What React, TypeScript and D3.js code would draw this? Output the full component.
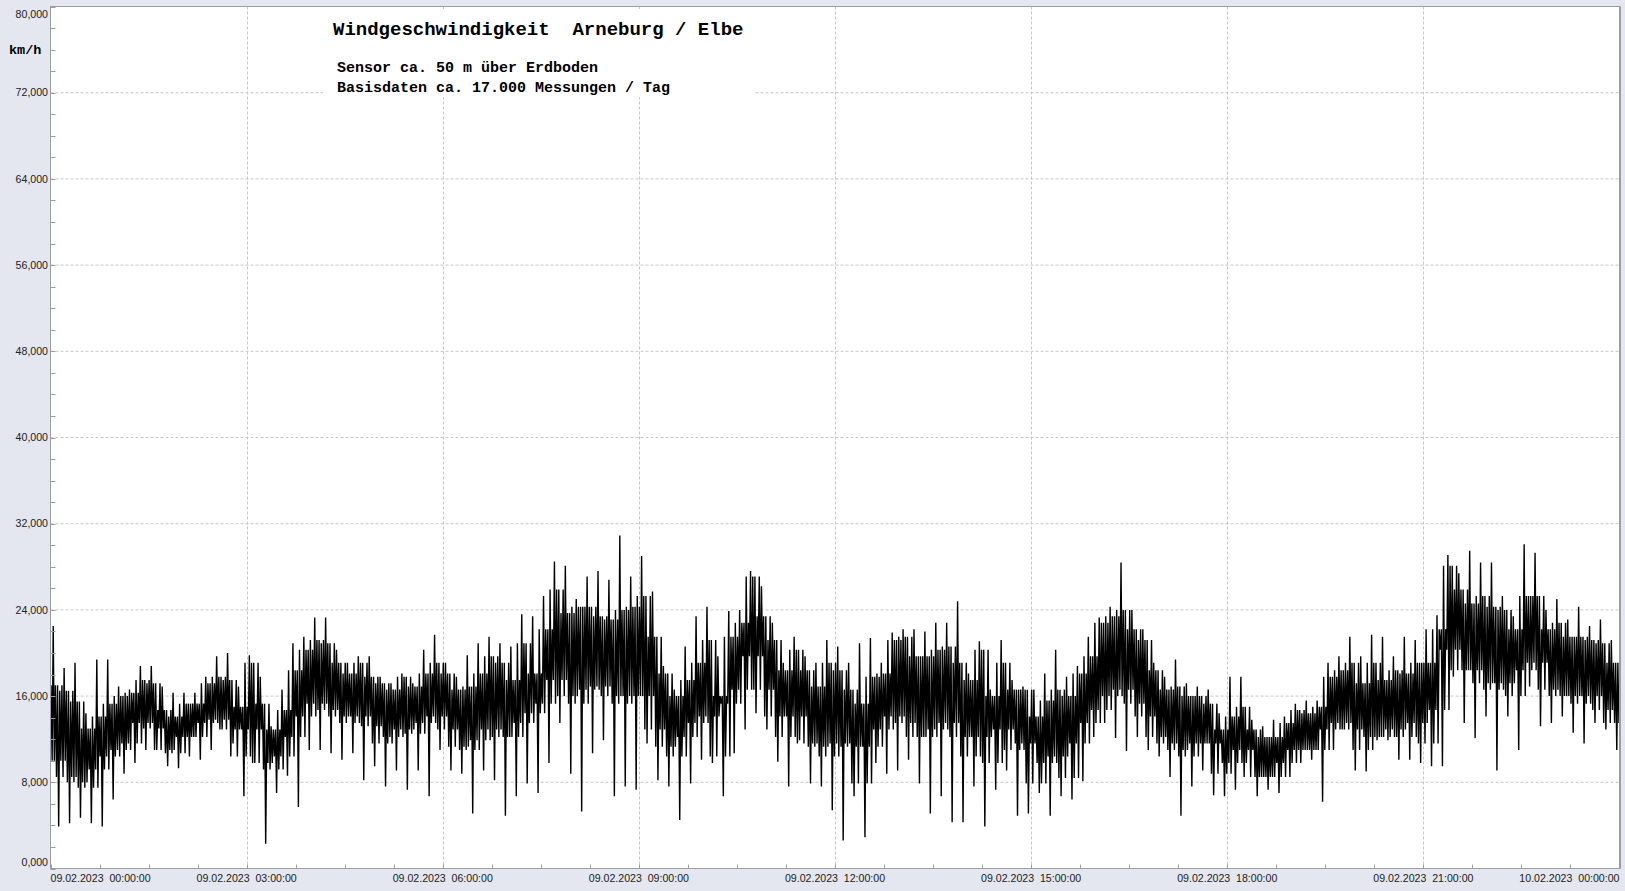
import React, { useMemo } from 'react'
import * as d3 from 'd3'

// 10-minute bins over 09.02.2023, values in km/h
const binMinutes = 10
const startTime = Date.UTC(2023, 1, 9, 0, 0, 0)
const endTime = Date.UTC(2023, 1, 10, 0, 0, 0)

// highest / lowest spikes per bin
const peakHigh = [
  22.5, 18.6, 19.1, 14.4, 19.4, 19.4, 16.9, 16.6, 18.8, 18.8, 16.9, 16.3,
  16.3, 16.3, 17.8, 19.7, 20.0, 16.9, 19.8, 17.8, 13.2, 16.6, 20.9, 21.5,
  23.3, 23.3, 20.3, 19.1, 19.7, 19.7, 17.8, 17.2, 18.1, 17.2, 20.3, 21.7,
  19.1, 17.8, 19.8, 20.9, 21.5, 20.9, 20.6, 23.6, 23.4, 25.3, 28.5, 28.1,
  25.0, 27.1, 27.6, 26.8, 30.9, 27.1, 29.0, 25.7, 18.8, 16.6, 20.6, 23.4,
  24.3, 19.7, 23.9, 24.0, 27.6, 26.2, 22.8, 19.1, 21.5, 19.7, 19.1, 21.2,
  20.6, 19.1, 20.9, 21.4, 19.1, 21.9, 22.2, 22.2, 22.0, 22.8, 22.8, 24.8,
  18.1, 21.1, 16.6, 21.2, 17.5, 16.9, 16.6, 18.1, 20.3, 17.8, 18.8, 21.5,
  23.3, 24.3, 28.4, 24.0, 22.2, 19.1, 17.8, 19.4, 17.2, 16.9, 16.6, 14.4,
  17.8, 17.8, 13.8, 13.2, 13.8, 14.1, 15.3, 15.6, 15.6, 19.1, 19.7, 21.5,
  19.7, 21.7, 21.5, 19.7, 21.5, 21.2, 22.2, 23.5, 29.1, 27.4, 29.5, 28.4,
  28.4, 25.3, 23.4, 30.1, 29.3, 24.0, 25.0, 23.1, 24.3, 22.5, 23.1, 21.2
]
const peakLow = [
  3.9, 4.2, 4.7, 4.2, 3.9, 6.4, 8.8, 9.8, 11.0, 11.0, 9.5, 9.3,
  10.4, 10.1, 11.0, 12.9, 11.6, 6.7, 9.8, 2.3, 7.0, 8.6, 5.7, 11.0,
  11.0, 10.7, 10.1, 10.7, 8.2, 9.5, 7.6, 9.1, 7.3, 9.1, 6.7, 11.0,
  9.1, 8.8, 5.1, 9.1, 8.2, 4.9, 6.7, 7.9, 7.0, 9.8, 13.5, 8.8,
  5.3, 10.7, 11.9, 6.7, 7.6, 7.3, 11.6, 8.2, 7.6, 4.5, 7.9, 10.1,
  9.8, 6.7, 10.7, 12.9, 14.4, 12.9, 9.9, 7.6, 11.9, 7.9, 7.6, 5.4,
  2.6, 6.7, 2.9, 9.8, 8.8, 9.1, 10.1, 7.9, 5.1, 6.7, 4.3, 4.3,
  7.6, 3.9, 7.3, 9.1, 4.9, 5.1, 7.0, 4.9, 6.7, 6.4, 8.1, 12.2,
  13.5, 12.1, 10.9, 12.2, 11.0, 10.4, 8.5, 4.9, 7.6, 9.1, 6.8, 6.7,
  7.3, 9.8, 6.7, 7.3, 7.0, 8.5, 9.8, 10.1, 6.2, 11.0, 12.9, 9.1,
  9.0, 11.9, 11.9, 10.1, 10.1, 9.8, 9.5, 9.5, 17.8, 13.5, 12.1, 14.1,
  9.1, 14.1, 11.0, 16.9, 13.2, 13.5, 14.1, 12.6, 11.6, 13.5, 12.9, 11.0
]
// dense core of the band per bin
const bandHigh = [
  17.0, 16.5, 15.5, 13.0, 14.1, 15.3, 16.0, 16.3, 17.5, 17.2, 14.7, 14.1,
  15.3, 15.3, 17.2, 17.8, 17.5, 15.0, 19.1, 15.3, 12.9, 14.7, 18.4, 20.3,
  21.2, 20.9, 19.1, 18.1, 19.1, 17.8, 17.2, 16.6, 17.8, 16.9, 18.1, 19.1,
  18.1, 16.6, 16.9, 18.1, 19.7, 19.1, 17.5, 20.9, 18.1, 22.2, 25.9, 23.7,
  24.3, 24.3, 23.4, 23.1, 24.0, 24.3, 25.3, 21.5, 18.1, 16.0, 17.5, 19.1,
  21.2, 16.0, 21.5, 22.8, 27.1, 23.4, 21.2, 18.4, 20.3, 18.4, 16.9, 19.1,
  18.4, 16.6, 15.3, 17.8, 18.1, 21.2, 21.5, 19.7, 19.7, 20.3, 20.6, 19.1,
  17.5, 20.3, 16.0, 19.1, 16.6, 16.6, 14.1, 15.6, 16.6, 16.0, 18.1, 19.7,
  22.8, 23.4, 24.0, 22.2, 21.2, 18.4, 16.6, 16.9, 16.0, 16.0, 15.3, 12.9,
  14.1, 15.0, 12.9, 12.2, 12.2, 13.5, 14.7, 14.4, 15.0, 17.8, 18.4, 19.1,
  17.2, 19.1, 17.5, 18.4, 18.1, 19.1, 19.1, 22.2, 28.1, 25.9, 24.6, 25.3,
  24.3, 24.0, 22.2, 25.3, 25.3, 22.2, 22.8, 21.5, 21.5, 21.2, 20.9, 19.1
]
const bandLow = [
  10.0, 8.5, 8.0, 7.5, 9.2, 10.4, 11.0, 11.6, 13.5, 13.0, 11.0, 10.7,
  12.2, 12.2, 13.5, 13.8, 12.9, 10.4, 12.9, 9.8, 9.2, 10.4, 12.2, 14.1,
  15.3, 14.7, 14.1, 13.5, 14.1, 13.2, 11.6, 12.2, 12.9, 12.5, 13.5, 14.1,
  12.9, 11.3, 11.0, 11.9, 12.9, 12.2, 12.2, 13.5, 14.4, 15.3, 17.5, 16.0,
  15.3, 16.6, 16.9, 16.0, 15.3, 16.0, 16.0, 12.9, 11.3, 10.4, 12.2, 13.5,
  14.1, 10.4, 15.3, 16.6, 19.7, 16.6, 14.1, 12.2, 14.1, 11.6, 11.3, 10.4,
  11.6, 11.3, 7.9, 11.3, 12.9, 14.1, 13.5, 12.2, 12.2, 12.9, 13.5, 12.2,
  10.4, 12.2, 9.8, 12.9, 11.0, 11.6, 7.9, 9.8, 10.4, 8.4, 11.6, 13.5,
  14.7, 16.0, 16.6, 15.3, 14.1, 12.2, 11.6, 11.0, 10.4, 11.6, 11.6, 8.8,
  9.8, 11.0, 8.5, 8.5, 8.5, 9.8, 11.0, 11.0, 11.0, 12.9, 13.5, 12.9,
  11.0, 12.2, 12.2, 12.9, 12.2, 13.5, 11.6, 14.7, 20.3, 18.4, 18.4, 17.2,
  16.6, 17.2, 16.0, 18.4, 19.1, 16.6, 16.0, 16.0, 15.3, 16.0, 14.7, 13.5
]

const yMajorTicks = [0, 8, 16, 24, 32, 40, 48, 56, 64, 72, 80]
const yMinorStep = 2
const xGridHours = [3, 6, 9, 12, 15, 18, 21]
const xLabelHours = [0, 3, 6, 9, 12, 15, 18, 21, 24]
const xTickMinutes = 45

const titleText = 'Windgeschwindigkeit  Arneburg / Elbe'
const subtitleLines = ['Sensor ca. 50 m über Erdboden', 'Basisdaten ca. 17.000 Messungen / Tag']
const unitLabel = 'km/h'

const W = 1625
const H = 891
const margin = { top: 6.5, right: 5.5, bottom: 22.5, left: 50.5 }

const deLocale = d3.formatLocale({ decimal: ',', thousands: '.', grouping: [3], currency: ['', ''] })
const fmtY = deLocale.format('.3f')
const fmtX = d3.utcFormat('%d.%m.%Y  %H:%M:%S')

const bgColor = '#e4e7ef'
const gridColor = '#c6c6c6'
const axisColor = '#9c9ca4'
const sans = '"Liberation Sans", Arial, sans-serif'
const mono = '"Liberation Mono", "Courier New", monospace'

export default function App() {
  const x0 = margin.left
  const x1 = W - margin.right
  const y0 = H - margin.bottom
  const y1 = margin.top

  const xScale = useMemo(
    () => d3.scaleUtc().domain([new Date(startTime), new Date(endTime)]).range([x0, x1]),
    []
  )
  const yScale = useMemo(() => d3.scaleLinear().domain([0, 80]).range([y0, y1]), [])

  const minute = 60000
  const binStart = (i: number) => startTime + i * binMinutes * minute
  const xAt = (t: number) => xScale(new Date(t))
  const last = bandHigh.length - 1

  // trace: inside each bin the line swings between the read band levels of
  // this bin and its neighbours, with the bin's highest and lowest spike once each
  const tracePts: [number, number][] = []
  bandHigh.forEach((bh, i) => {
    const bl = bandLow[i]
    const p = Math.max(0, i - 1)
    const n = Math.min(last, i + 1)
    const seq = [
      bandHigh[p], bl, peakHigh[i], bandLow[p], bh,
      bandLow[n], bh, peakLow[i], bandHigh[n], bl
    ]
    seq.forEach((v, k) => tracePts.push([binStart(i) + (k + 0.5) * minute, v]))
  })
  const tracePath = d3
    .line<[number, number]>()
    .x(d => xAt(d[0]))
    .y(d => yScale(d[1]))(tracePts)

  const yMinor = d3.range(0, 80 + 0.001, yMinorStep)
  const xTicks = d3.range(startTime, endTime + 1, xTickMinutes * minute)

  return (
    <div style={{ position: 'absolute', left: 0, top: 0 }}>
      <svg width={W} height={H} style={{ display: 'block' }}>
        <rect x={0} y={0} width={W} height={H} fill={bgColor} />
        <rect x={x0} y={y1} width={x1 - x0} height={y0 - y1} fill="#ffffff" />

        {/* grid */}
        {yMajorTicks.filter(v => v > 0 && v < 80).map(v => (
          <line key={'gy' + v} x1={x0} x2={x1} y1={yScale(v)} y2={yScale(v)}
            stroke={gridColor} strokeDasharray="3,2" />
        ))}
        {xGridHours.map(h => {
          const gx = Math.round(xAt(startTime + h * 60 * minute)) + 0.5
          return (
            <line key={'gx' + h} x1={gx} x2={gx} y1={y1} y2={y0} stroke={gridColor} strokeDasharray="3,2" />
          )
        })}

        {/* title box */}
        <rect x={323} y={9} width={432} height={88} fill="#ffffff" />
        <text x={333} y={35} fontFamily={mono} fontWeight="bold" fontSize={19}
          style={{ whiteSpace: 'pre' }} fill="#000">{titleText}</text>
        {subtitleLines.map((s, i) => (
          <text key={s} x={337} y={72 + i * 20} fontFamily={mono} fontWeight="bold" fontSize={15}
            style={{ whiteSpace: 'pre' }} fill="#000">{s}</text>
        ))}

        {/* data */}
        <path d={tracePath ?? ''} fill="none" stroke="#000" strokeWidth={1.4} strokeLinejoin="miter" strokeMiterlimit={2} />

        {/* axes frame */}
        <rect x={x0} y={y1} width={x1 - x0} height={y0 - y1} fill="none" stroke={axisColor} strokeWidth={1} />
        <line x1={x1 + 0.5} x2={x1 + 0.5} y1={y1} y2={y0} stroke={axisColor} strokeWidth={2} />

        {/* y ticks and labels */}
        {yMinor.map(v => (
          <line key={'ty' + v} x1={x0} x2={x0 + 5} y1={Math.round(yScale(v)) + 0.5}
            y2={Math.round(yScale(v)) + 0.5} stroke={axisColor} />
        ))}
        {yMajorTicks.map(v => (
          <text key={'ly' + v} x={48} y={Math.min(862, Math.max(14, yScale(v)))} dy="0.35em"
            textAnchor="end" fontFamily={sans} fontSize={10.6} fill="#222">{fmtY(v)}</text>
        ))}
        <text x={9} y={54} fontFamily={mono} fontWeight="bold" fontSize={13.5} fill="#000">{unitLabel}</text>

        {/* x ticks and labels */}
        {xTicks.map(t => {
          const tx = Math.round(xAt(t)) + 0.5
          return <line key={'tx' + t} x1={tx} x2={tx} y1={y0} y2={y0 - 4} stroke={axisColor} />
        })}
        {xLabelHours.map((h, i) => {
          const t = startTime + h * 60 * minute
          const anchor = i === 0 ? 'start' : i === xLabelHours.length - 1 ? 'end' : 'middle'
          return (
            <text key={'lx' + h} x={xAt(t)} y={882} textAnchor={anchor} fontFamily={sans}
              fontSize={10.6} fill="#222" style={{ whiteSpace: 'pre' }}>{fmtX(new Date(t))}</text>
          )
        })}
      </svg>
    </div>
  )
}
